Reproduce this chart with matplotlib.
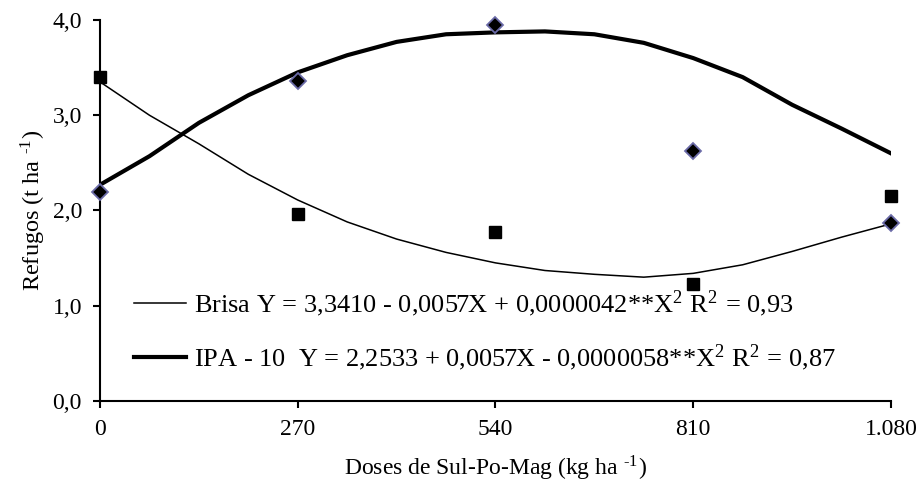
import matplotlib
matplotlib.use("Agg")
import matplotlib.pyplot as plt

plt.rcParams["font.family"] = ["Liberation Serif", "DejaVu Serif"]
plt.rcParams["mathtext.fontset"] = "stix"

# observed means
doses = [0, 270, 540, 810, 1080]
brisa_obs = [3.40, 1.96, 1.77, 1.23, 2.15]
ipa_obs = [2.19, 3.36, 3.95, 2.62, 1.87]

# fitted curves as drawn
curve_x = [0, 67.5, 135, 202.5, 270, 337.5, 405, 472.5, 540, 607.5,
           675, 742.5, 810, 877.5, 945, 1012.5, 1080]
brisa_fit = [3.35, 3.00, 2.70, 2.38, 2.11, 1.88, 1.70, 1.56, 1.45, 1.37,
             1.33, 1.30, 1.34, 1.43, 1.57, 1.72, 1.86]
ipa_fit = [2.27, 2.57, 2.92, 3.21, 3.45, 3.63, 3.77, 3.85, 3.87, 3.88,
           3.85, 3.76, 3.60, 3.40, 3.11, 2.86, 2.60]

x_ticks = [0, 270, 540, 810, 1080]
x_labels = ["0", "270", "540", "810", "1.080"]
y_ticks = [0, 1, 2, 3, 4]
y_labels = ["0,0", "1,0", "2,0", "3,0", "4,0"]

SUP2 = "$^{\\mathregular{2}}$"
SUPM1 = "$^{\\mathregular{\u20101}}$"   # hyphen, not a math minus
lbl_brisa = "Brisa Y = 3,3410 - 0,0057X + 0,0000042**X" + SUP2 + " R" + SUP2 + " = 0,93"
lbl_ipa = "IPA - 10  Y = 2,2533 + 0,0057X - 0,0000058**X" + SUP2 + " R" + SUP2 + " = 0,87"

fig = plt.figure(figsize=(9.21, 4.91), dpi=100)
ax = fig.add_axes([0.1086, 0.1833, 0.8588, 0.776])

l1, = ax.plot(curve_x, brisa_fit, color="black", lw=1.1)
l2, = ax.plot(curve_x, ipa_fit, color="black", lw=3.0)
ax.plot(doses, brisa_obs, ls="none", marker="s", ms=8, color="black", clip_on=False, zorder=5)
ax.plot(doses, ipa_obs, ls="none", marker="D", ms=8, mfc="black", mec="#6b6ba8",
        mew=1.3, clip_on=False, zorder=5)

ax.set_xlim(0, 1080)
ax.set_ylim(0, 4)
ax.set_xticks(x_ticks)
ax.set_xticklabels(x_labels)
ax.set_yticks(y_ticks)
ax.set_yticklabels(y_labels)
ax.spines[["top", "right"]].set_visible(False)
for s in ("left", "bottom"):
    ax.spines[s].set_linewidth(1.5)
ax.tick_params(direction="out", length=5, width=1.5, labelsize=17, pad=8)

ax.set_xlabel("Doses de Sul-Po-Mag (kg ha " + SUPM1 + ")", fontsize=17, labelpad=10)
ax.set_ylabel("Refugos (t ha " + SUPM1 + ")", fontsize=17.5, labelpad=3)

ax.legend([l1, l2], [lbl_brisa, lbl_ipa], loc="lower left", bbox_to_anchor=(0.03, 0.045),
          frameon=False, fontsize=19, handlelength=1.95, handletextpad=0.3,
          labelspacing=0.9, borderaxespad=0)

fig.savefig("out.png", dpi=100, facecolor="white")
